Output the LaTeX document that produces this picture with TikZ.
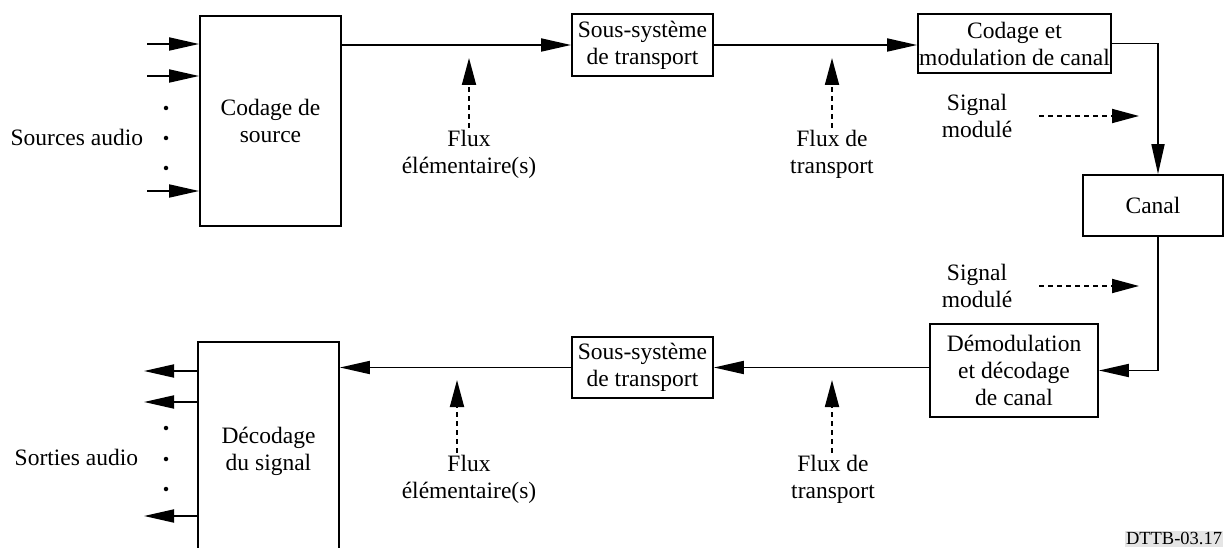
\documentclass[tikz,border=0pt]{standalone}
\usepackage{fontspec}
\setmainfont{Liberation Serif}
\usetikzlibrary{arrows.meta}

\begin{document}
\begin{tikzpicture}[
		x=1pt, y=-1pt,
		line width=1.8pt,
		font=\fontsize{23.5}{27}\selectfont,
		% Estilos: cajas de bloques, etiquetas y flechas
		blockNode/.style={draw, align=center, inner sep=1pt},
		labelNode/.style={align=center, inner sep=1pt},
		flowArrow/.style={-{Triangle[length=30pt, width=13pt]}},
		sigArrow/.style={-{Triangle[length=27pt, width=14pt]}, dash pattern=on 5pt off 4pt},
		dotNode/.style={circle, fill, inner sep=0pt, minimum size=4.5pt}
	]

	\clip (0,0) rectangle (1224,548);

	% --- 1. Bloques ---
	\node[blockNode, minimum width=141pt, minimum height=210pt] (src) at (270.5,121) {Codage de\\source};
	\node[blockNode, minimum width=141pt, minimum height=62pt] (tss) at (642.5,45) {Sous-système\\de transport};
	% la segunda línea desborda la caja, como en el original
	\node[blockNode, minimum width=193pt, minimum height=59pt, inner xsep=0pt] (cmc) at (1014.5,43.5)
		{Codage et\\\makebox[191pt]{modulation de canal}};
	\node[blockNode, minimum width=140pt, minimum height=61pt] (canal) at (1153,205.5) {Canal};
	\node[blockNode, minimum width=168pt, minimum height=93pt] (dmd) at (1014,370.5) {Démodulation\\et décodage\\de canal};
	\node[blockNode, minimum width=141pt, minimum height=61pt] (bss) at (642.5,367.5) {Sous-système\\de transport};
	\node[blockNode, minimum width=141pt, minimum height=218pt] (dec) at (268.5,451) {Décodage\\du signal};

	% --- 2. Etiquetas ---
	\node[labelNode, anchor=east] (srcLbl) at (145,137) {Sources audio};
	\node[labelNode, anchor=east] (outLbl) at (140,457) {Sorties audio};
	\node[labelNode] (fe1) at (469,154) {Flux\\élémentaire(s)};
	\node[labelNode] (ft1) at (832,154) {Flux de\\transport};
	\node[labelNode] (sm1) at (977,116) {Signal\\modulé};
	\node[labelNode] (sm2) at (977,286) {Signal\\modulé};
	\node[labelNode] (fe2) at (469,479) {Flux\\élémentaire(s)};
	\node[labelNode] (ft2) at (833,479) {Flux de\\transport};
	\node[anchor=south east, fill=black!10, inner xsep=1pt, inner ysep=2pt,
		font=\fontsize{18.5}{20}\selectfont] (ref) at (1224,548) {DTTB-03.17};

	% puntas de las flechas discontinuas
	\coordinate (fe1Tip) at (469,58);
	\coordinate (ft1Tip) at (832,58);
	\coordinate (fe2Tip) at (457,380);
	\coordinate (ft2Tip) at (832,380);
	\coordinate (sm1Tip) at (1139,116);
	\coordinate (sm2Tip) at (1139,286);

	% --- 3. Entradas y salidas de audio ---
	\foreach \y [count=\i] in {44,76,191} {
		\coordinate (in\i) at (147,\y);
		\draw[flowArrow] (in\i) -- (in\i -| src.west);
	}
	\foreach \y [count=\i] in {371,402,516} {
		\coordinate (out\i) at (144,\y);
		\draw[flowArrow] (out\i -| dec.west) -- (out\i);
	}
	\foreach \y in {108,138,168,428,459,489}
		\node[dotNode] (dot\y) at (166,\y) {};

	% --- 4. Cadena principal ---
	\draw[flowArrow] (src.east |- tss.west) -- (tss.west);
	\draw[flowArrow] (tss.east) -- (tss.east -| cmc.west);
	\draw[flowArrow] (cmc.east) -| ([xshift=5pt]canal.north);
	\draw[flowArrow] ([xshift=5pt]canal.south) |- (dmd.east);
	\draw[flowArrow] (dmd.west |- bss.east) -- (bss.east);
	\draw[flowArrow] (bss.west) -- (bss.west -| dec.east);

	% --- 5. Flechas discontinuas ---
	\draw[sigArrow] (fe1) -- (fe1Tip);
	\draw[sigArrow] (ft1) -- (ft1Tip);
	\draw[sigArrow] (fe2Tip |- fe2.north) -- (fe2Tip);
	\draw[sigArrow] (ft2Tip |- ft2.north) -- (ft2Tip);
	\draw[sigArrow, shorten <=25pt] (sm1) -- (sm1Tip);
	\draw[sigArrow, shorten <=25pt] (sm2) -- (sm2Tip);

\end{tikzpicture}
\end{document}
